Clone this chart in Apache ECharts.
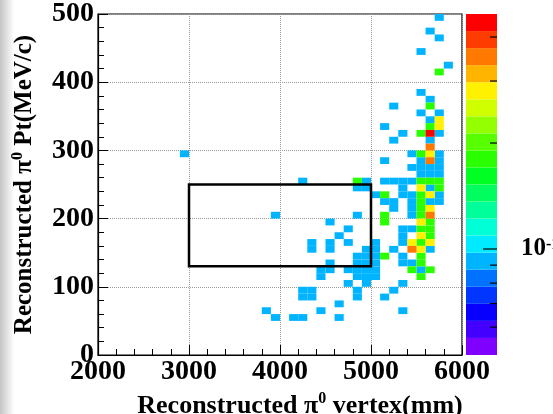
<!DOCTYPE html>
<html>
<head>
<meta charset="utf-8">
<script src="https://cdn.jsdelivr.net/npm/echarts@6/dist/echarts.min.js"></script>
<style>
  html, body { margin: 0; padding: 0; background: #fff; }
  #chart { width: 553px; height: 414px; }
</style>
</head>
<body>
<div id="chart"></div>
<script>
// 2D histogram: pi0 Pt vs reconstructed vertex, ROOT-style COLZ with log colour scale.
const xRange = [2000, 6000];
const yRange = [0, 500];
const binW = 100;   // mm
const binH = 10;    // MeV/c

// weighted bin content for 1..5 entries
const cellLevels = [0.092, 0.18, 0.28, 0.37, 0.46];

// [vertex lower edge, Pt lower edge]
const cellsBlue = [
  [5700,490],[5600,470],[5700,460],[5500,440],[5800,420],
  [5500,380],[5600,370],[5200,360],[5500,350],[5700,350],
  [5600,340],[5100,330],[5300,320],[5700,320],[5200,310],[5600,310],
  [5400,290],[5700,290],[5100,280],[5500,280],[5700,280],
  [5400,270],[5500,270],[5600,270],[5700,270],
  [5500,260],[5600,260],[5700,260],
  [4200,250],[4900,250],[5100,250],[5200,250],[5300,250],[5400,250],
  [4800,240],[4900,240],[5300,240],[5600,240],
  [5000,230],[5300,230],[5400,230],[5700,230],
  [5100,220],[5200,220],[5400,220],[5600,220],[5700,220],
  [5200,210],[5400,210],
  [3900,200],[4800,200],[5400,200],
  [4500,190],
  [4700,180],[5300,180],[5400,180],
  [4600,170],[5300,170],
  [4300,160],[4500,160],[4700,160],[5000,160],[5300,160],
  [4300,150],[4500,150],[4900,150],[5000,150],[5200,150],[5600,150],
  [4800,140],[4900,140],[5000,140],[5300,140],
  [4500,130],[4800,130],[4900,130],[5000,130],[5300,130],[5400,130],
  [4400,120],[4500,120],[4700,120],[4800,120],[4900,120],[5000,120],[5500,120],
  [4400,110],[4800,110],[4900,110],[5000,110],
  [4700,100],[4900,100],[5300,100],
  [4200,90],[4300,90],[4800,90],[5200,90],
  [4200,80],[4300,80],[4800,80],[5100,80],
  [4600,70],
  [3800,60],[4400,60],[5300,60],
  [3900,50],[4100,50],[4200,50],[4600,50],
  [2900,290]
];
const cellsGreen = [
  [5700,410],[5600,360],[5600,330],[5500,320],[5500,290],
  [4800,250],[5500,250],[5600,250],[5700,250],
  [5700,240],[5100,230],[5500,230],[5500,220],[5500,210],
  [5100,200],[5500,200],[5100,190],[5600,190],
  [5500,180],[5600,180],[5600,170],[5500,160],
  [5100,140],[5500,140],[5500,130],[5400,120],[5600,120],[5500,110]
];
const cellsYellow = [
  [5700,340],[5700,330],[5600,290],[5500,240],[5600,230],[5600,210],
  [5500,190],[5500,170],[5400,160],[5600,160],[5500,150]
];
const cellsOrange = [[5600,300],[5600,280],[5600,200],[5400,150]];
const cellsRed = [[5600,320]];

// signal box: x0, y0, x1, y1
const signalBox = [3000, 130, 5000, 250];

// colour scale
const zRange = [0.05, 0.465];
const zMinorTicks = [0.06, 0.07, 0.08, 0.09, 0.2, 0.3, 0.4];
const zMajorTicks = [0.1];

const palette = [
  '#8000ff','#4300ff','#0700ff','#0036ff','#0072ff','#00b4ff','#00ebff',
  '#00ffd7','#00ff9a','#00ff5e','#00ff22','#2aff00','#57ff00','#94ff00',
  '#d0ff00','#fff100','#ffb500','#ff7900','#ff3c00','#ff0000'
];

const FONT = 'Liberation Serif, Times New Roman, serif';

const cellData = [];
[cellsBlue, cellsGreen, cellsYellow, cellsOrange, cellsRed].forEach((list, k) => {
  list.forEach(c => cellData.push([c[0], c[1], cellLevels[k]]));
});

const ratio = zRange[1] / zRange[0];
const bandEdges = [];
for (let i = 0; i <= palette.length; i++) bandEdges.push(zRange[0] * Math.pow(ratio, i / palette.length));
const pieces = palette.map((c, i) => ({ gte: bandEdges[i], lt: bandEdges[i + 1], color: c }));
const bandData = palette.map((c, i) => [bandEdges[i], bandEdges[i + 1], i]);
const tickData = zMinorTicks.map(v => [v, 0]).concat(zMajorTicks.map(v => [v, 1]));

const labelStyle = { color: '#000', fontFamily: FONT, fontWeight: 'bold', fontSize: 28, formatter: v => String(v) };
const supStyle = { fontFamily: FONT, fontWeight: 'bold', fontSize: 16, verticalAlign: 'top', lineHeight: 30 };

const chart = echarts.init(document.getElementById('chart'), null, { renderer: 'canvas' });

chart.setOption({
  animation: false,
  backgroundColor: '#fff',
  graphic: [{
    type: 'rect', shape: { x: 0, y: 0, width: 14, height: 414 }, silent: true, z: -1,
    style: { fill: new echarts.graphic.LinearGradient(0, 0, 1, 0, [
      { offset: 0, color: '#c4c4c4' }, { offset: 1, color: '#ffffff' }]) }
  }],
  grid: [
    { left: 98, top: 14, width: 364, height: 341, outerBoundsMode: 'none', containLabel: false,
      show: true, borderColor: '#000', borderWidth: 1.2, backgroundColor: 'transparent' },
    { left: 466, top: 14, width: 31, height: 341, outerBoundsMode: 'none', containLabel: false }
  ],
  visualMap: { type: 'piecewise', show: false, seriesIndex: 0, dimension: 2, pieces: pieces },
  xAxis: [{
    type: 'value', gridIndex: 0, min: xRange[0], max: xRange[1], interval: 1000,
    axisLine: { lineStyle: { color: '#000', width: 1.2 } },
    axisTick: { inside: true, length: 10, lineStyle: { color: '#000' } },
    minorTick: { show: true, splitNumber: 5, length: 6, lineStyle: { color: '#000' } },
    splitLine: { show: true, lineStyle: { color: '#999', type: 'dotted' } },
    axisLabel: Object.assign({ margin: 3 }, labelStyle),
    name: 'Reconstructed π{sup|0} vertex(mm)', nameLocation: 'middle', nameGap: 33,
    nameTextStyle: {
      color: '#000', fontFamily: FONT, fontWeight: 'bold', fontSize: 26, lineHeight: 30,
      padding: [0, 0, 0, 40], rich: { sup: supStyle }
    }
  }, {
    type: 'value', gridIndex: 1, min: 0, max: 1, show: false
  }],
  yAxis: [{
    type: 'value', gridIndex: 0, min: yRange[0], max: yRange[1], interval: 100,
    axisLine: { lineStyle: { color: '#000', width: 1.2 } },
    axisTick: { inside: true, length: 10, lineStyle: { color: '#000' } },
    minorTick: { show: true, splitNumber: 5, length: 6, lineStyle: { color: '#000' } },
    splitLine: { show: true, lineStyle: { color: '#999', type: 'dotted' } },
    axisLabel: Object.assign({ margin: 4 }, labelStyle),
    name: 'Reconstructed π{sup|0} Pt(MeV/c)', nameLocation: 'middle', nameGap: 58,
    nameTextStyle: {
      color: '#000', fontFamily: FONT, fontWeight: 'bold', fontSize: 25, lineHeight: 30,
      rich: { sup: supStyle }
    }
  }, {
    type: 'log', gridIndex: 1, min: zRange[0], max: zRange[1], show: false
  }],
  series: [{
    type: 'custom', xAxisIndex: 0, yAxisIndex: 0, data: cellData,
    encode: { x: 0, y: 1 }, clip: true,
    renderItem(params, api) {
      const p0 = api.coord([api.value(0), api.value(1) + binH]);
      const p1 = api.coord([api.value(0) + binW, api.value(1)]);
      return { type: 'rect', shape: { x: p0[0], y: p0[1], width: p1[0] - p0[0], height: p1[1] - p0[1] },
        style: { fill: api.visual('color') } };
    }
  }, {
    type: 'custom', xAxisIndex: 0, yAxisIndex: 0, data: [signalBox], z: 5,
    renderItem(params, api) {
      const p0 = api.coord([api.value(0), api.value(3)]);
      const p1 = api.coord([api.value(2), api.value(1)]);
      return { type: 'rect', shape: { x: p0[0], y: p0[1], width: p1[0] - p0[0], height: p1[1] - p0[1] },
        style: { fill: 'none', stroke: '#000', lineWidth: 2.5 } };
    }
  }, {
    type: 'custom', xAxisIndex: 1, yAxisIndex: 1, data: bandData,
    renderItem(params, api) {
      const p0 = api.coord([0, api.value(1)]);
      const p1 = api.coord([1, api.value(0)]);
      return { type: 'rect', shape: { x: p0[0], y: p0[1], width: p1[0] - p0[0], height: p1[1] - p0[1] },
        style: { fill: palette[api.value(2)] } };
    }
  }, {
    type: 'custom', xAxisIndex: 1, yAxisIndex: 1, data: tickData, z: 5,
    renderItem(params, api) {
      const p = api.coord([1, api.value(0)]);
      const major = api.value(1) === 1;
      const len = major ? 14 : 7;
      const children = [{ type: 'line', shape: { x1: p[0] - len, y1: p[1], x2: p[0], y2: p[1] },
        style: { stroke: '#000', lineWidth: 1.2 } }];
      if (major) {
        children.push({ type: 'text', x: p[0] + 24, y: p[1],
          style: { text: '10{sup|-1}', fill: '#000', font: 'bold 25px ' + FONT, verticalAlign: 'middle',
            rich: { sup: { fontFamily: FONT, fontWeight: 'bold', fontSize: 16, verticalAlign: 'top' } } } });
      }
      return { type: 'group', children };
    }
  }]
});
</script>
</body>
</html>
